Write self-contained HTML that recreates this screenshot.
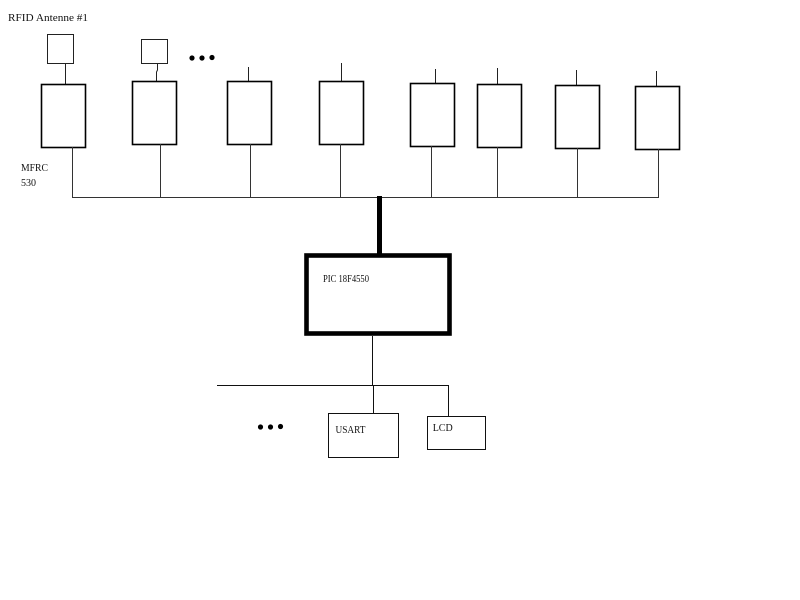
<!DOCTYPE html>
<html>
<head>
<meta charset="utf-8">
<style>
html,body{margin:0;padding:0;background:#fff;}
svg{display:block;}
text{font-family:"Liberation Serif",serif;fill:#111;}
</style>
</head>
<body>
<svg width="800" height="600" viewBox="0 0 800 600" xmlns="http://www.w3.org/2000/svg">
<rect width="800" height="600" fill="#fff"/>

<!-- Labels -->
<text x="8" y="21" font-size="10" textLength="80" lengthAdjust="spacingAndGlyphs">RFID Antenne #1</text>
<text x="21" y="171" font-size="10" textLength="27" lengthAdjust="spacingAndGlyphs">MFRC</text>
<text x="21" y="186" font-size="10" textLength="15" lengthAdjust="spacingAndGlyphs">530</text>

<!-- Antenna boxes -->
<rect x="47.5" y="34.5" width="26" height="29" fill="none" stroke="#222" stroke-width="1"/>
<rect x="141.5" y="39.5" width="26" height="24" fill="none" stroke="#222" stroke-width="1"/>

<!-- Antenna connectors / stubs -->
<g stroke="#222" stroke-width="1" fill="none">
<line x1="65.5" y1="63" x2="65.5" y2="85"/>
<polyline points="157.5,63 157.5,70 156.5,72 156.5,81"/>
<line x1="248.5" y1="67" x2="248.5" y2="81"/>
<line x1="341.5" y1="63" x2="341.5" y2="81"/>
<line x1="435.5" y1="69" x2="435.5" y2="83"/>
<line x1="497.5" y1="68" x2="497.5" y2="84"/>
<line x1="576.5" y1="70" x2="576.5" y2="85"/>
<line x1="656.5" y1="71" x2="656.5" y2="86"/>
</g>

<!-- Dots top -->
<circle cx="192" cy="58" r="2.6" fill="#000"/>
<circle cx="202" cy="58" r="2.6" fill="#000"/>
<circle cx="212" cy="57.5" r="2.6" fill="#000"/>

<!-- MFRC boxes -->
<g fill="none" stroke="#000" stroke-width="1.6">
<rect x="41.5" y="84.5" width="44" height="63"/>
<rect x="132.5" y="81.5" width="44" height="63"/>
<rect x="227.5" y="81.5" width="44" height="63"/>
<rect x="319.5" y="81.5" width="44" height="63"/>
<rect x="410.5" y="83.5" width="44" height="63"/>
<rect x="477.5" y="84.5" width="44" height="63"/>
<rect x="555.5" y="85.5" width="44" height="63"/>
<rect x="635.5" y="86.5" width="44" height="63"/>
</g>

<!-- Bus drops -->
<g stroke="#333" stroke-width="1" fill="none">
<line x1="72.5" y1="147" x2="72.5" y2="197"/>
<line x1="160.5" y1="144" x2="160.5" y2="197"/>
<line x1="250.5" y1="144" x2="250.5" y2="197"/>
<line x1="340.5" y1="144" x2="340.5" y2="197"/>
<line x1="431.5" y1="146" x2="431.5" y2="197"/>
<line x1="497.5" y1="147" x2="497.5" y2="197"/>
<line x1="577.5" y1="148" x2="577.5" y2="197"/>
<line x1="658.5" y1="149" x2="658.5" y2="197"/>
<line x1="72" y1="197.5" x2="659" y2="197.5"/>
</g>

<!-- Thick link to PIC -->
<line x1="379.5" y1="196" x2="379.5" y2="255" stroke="#000" stroke-width="5"/>

<!-- PIC box -->
<rect x="306.5" y="255.5" width="143" height="78" fill="none" stroke="#000" stroke-width="4.6"/>
<text x="323" y="282" font-size="10" textLength="46" lengthAdjust="spacingAndGlyphs">PIC 18F4550</text>

<!-- Lower connectors -->
<g stroke="#111" stroke-width="1" fill="none">
<line x1="372.5" y1="336" x2="372.5" y2="386"/>
<line x1="217" y1="385.5" x2="449" y2="385.5"/>
<line x1="373.5" y1="386" x2="373.5" y2="413"/>
<line x1="448.5" y1="386" x2="448.5" y2="416"/>
</g>

<!-- USART / LCD -->
<rect x="328.5" y="413.5" width="70" height="44" fill="none" stroke="#111" stroke-width="1"/>
<text x="335.5" y="433" font-size="10" textLength="30" lengthAdjust="spacingAndGlyphs">USART</text>
<rect x="427.5" y="416.5" width="58" height="33" fill="none" stroke="#111" stroke-width="1"/>
<text x="432.7" y="431" font-size="10" textLength="20" lengthAdjust="spacingAndGlyphs">LCD</text>

<!-- Dots bottom -->
<circle cx="260.5" cy="427" r="2.6" fill="#000"/>
<circle cx="270.5" cy="427" r="2.6" fill="#000"/>
<circle cx="280.5" cy="426.5" r="2.6" fill="#000"/>
</svg>
</body>
</html>
